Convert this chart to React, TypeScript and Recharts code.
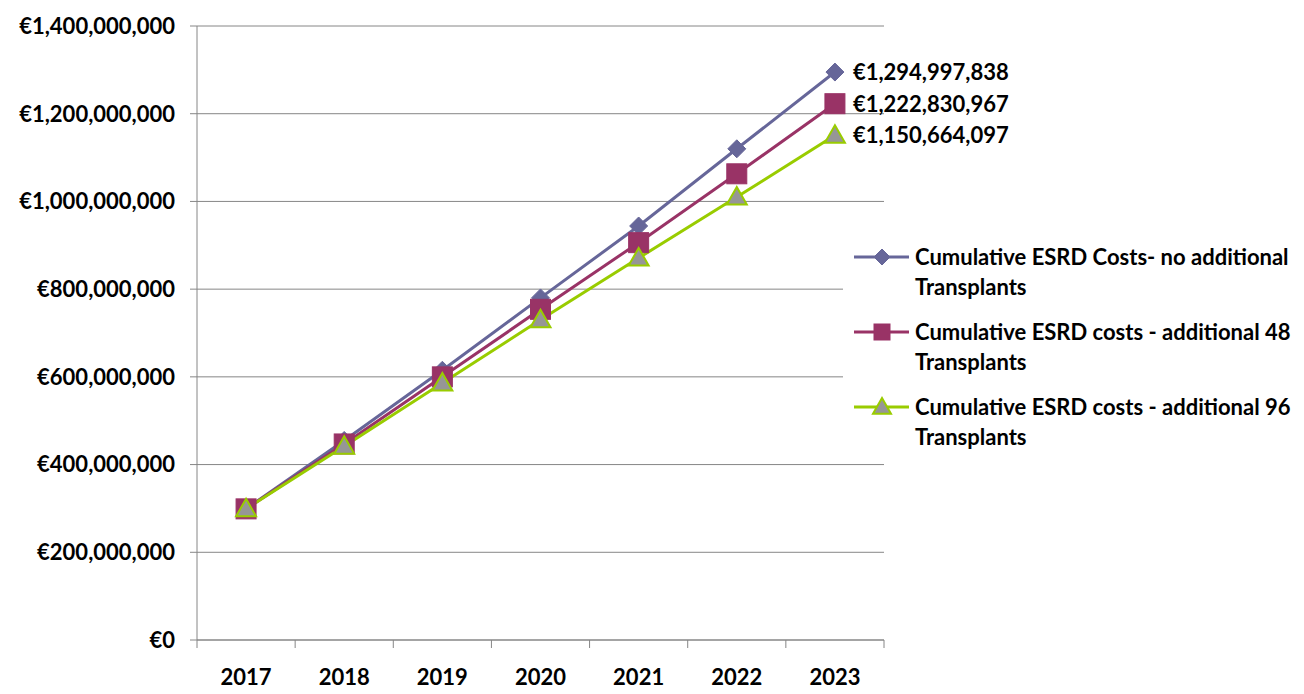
import React from 'react'
import { LineChart, Line, CartesianGrid, XAxis, YAxis, Legend, LabelList } from 'recharts'

const years = ['2017', '2018', '2019', '2020', '2021', '2022', '2023']
const noAdditional = [299000000, 455000000, 615000000, 780000000, 944000000, 1120000000, 1294997838]
const additional48 = [299000000, 447000000, 600000000, 754000000, 906000000, 1063000000, 1222830967]
const additional96 = [299000000, 442000000, 586000000, 730000000, 871000000, 1010000000, 1150664097]
const yTicks = [0, 200000000, 400000000, 600000000, 800000000, 1000000000, 1200000000, 1400000000]

const seriesNames = [
  ['Cumulative ESRD Costs- no additional', 'Transplants'],
  ['Cumulative ESRD costs - additional 48', 'Transplants'],
  ['Cumulative ESRD costs - additional 96', 'Transplants'],
]

const data = years.map((y, i) => ({
  year: y,
  none: noAdditional[i],
  add48: additional48[i],
  add96: additional96[i],
}))

const FONT = 'Lato, sans-serif'
const PURPLE = '#666699'
const MAROON = '#993366'
const GREEN = '#99CC00'
const GREY = '#969696'
const AXIS = '#868686'

const euro = (v: number) => (v === 0 ? '€0' : '€' + v.toLocaleString('en-US'))

const Diamond = ({ cx, cy, s = 9 }: any) => (
  <path d={`M${cx},${cy - s}L${cx + s},${cy}L${cx},${cy + s}L${cx - s},${cy}Z`} fill={PURPLE} stroke={PURPLE} strokeWidth={1} />
)
const Square = ({ cx, cy, s = 10 }: any) => (
  <rect x={cx - s} y={cy - s} width={s * 2} height={s * 2} fill={MAROON} stroke={MAROON} strokeWidth={1} />
)
const Triangle = ({ cx, cy, s = 10 }: any) => (
  <path d={`M${cx},${cy - s}L${cx + s},${cy + s * 0.75}L${cx - s},${cy + s * 0.75}Z`} fill={GREY} stroke={GREEN} strokeWidth={2} />
)

const dotDiamond = (p: any) => <Diamond key={'d' + p.index} cx={p.cx} cy={p.cy} />
const dotSquare = (p: any) => <Square key={'s' + p.index} cx={p.cx} cy={p.cy} />
const dotTriangle = (p: any) => <Triangle key={'t' + p.index} cx={p.cx} cy={p.cy} />

const lastLabel = (p: any) => {
  if (p.index !== years.length - 1) return null
  return (
    <text x={p.x + 18} y={p.y} dy="0.36em" textAnchor="start" fontFamily={FONT} fontWeight={700} fontSize={22} fill="#000">
      {euro(p.value)}
    </text>
  )
}

const XTick = (props: any) => {
  const { x, y, payload, index } = props
  const half = payload.offset || 0
  return (
    <g>
      <line x1={x - half} y1={y} x2={x - half} y2={y + 8} stroke={AXIS} />
      {index === years.length - 1 && <line x1={x + half} y1={y} x2={x + half} y2={y + 8} stroke={AXIS} />}
      <text x={x} y={y + 45} textAnchor="middle" fontFamily={FONT} fontWeight={700} fontSize={22} fill="#000">
        {payload.value}
      </text>
    </g>
  )
}

const legendIcons = [
  (cx: number, cy: number) => <Diamond cx={cx} cy={cy} s={8} />,
  (cx: number, cy: number) => <Square cx={cx} cy={cy} s={8} />,
  (cx: number, cy: number) => <Triangle cx={cx} cy={cy} s={9} />,
]
const legendColors = [PURPLE, MAROON, GREEN]

const LegendBox = () => (
  <div style={{ fontFamily: FONT, fontWeight: 700, fontSize: 22, lineHeight: '30px', color: '#000' }}>
    {seriesNames.map((lines, i) => (
      <div key={i} style={{ display: 'flex', marginBottom: i < 2 ? 15 : 0 }}>
        <svg width={61} height={30} style={{ flex: 'none' }}>
          <line x1={0} y1={15} x2={55} y2={15} stroke={legendColors[i]} strokeWidth={3} />
          {legendIcons[i](28, 15)}
        </svg>
        <div style={{ whiteSpace: 'nowrap' }}>
          {lines[0]}
          <br />
          {lines[1]}
        </div>
      </div>
    ))}
  </div>
)

export default function App() {
  return (
    <div style={{ position: 'relative', width: 1304, height: 694, marginLeft: -8, marginTop: -8, overflow: 'hidden', background: '#fff' }}>
      <LineChart width={1304} height={694} data={data} margin={{ top: 26, right: 420, bottom: 0, left: 0 }}>
        <CartesianGrid vertical={false} stroke={AXIS} strokeWidth={1} />
        <XAxis
          dataKey="year"
          scale="band"
          stroke={AXIS}
          tickLine={false}
          tickSize={0}
          tickMargin={0}
          height={54}
          tick={<XTick />}
          interval={0}
        />
        <YAxis
          domain={[0, 1400000000]}
          ticks={yTicks}
          tickFormatter={euro}
          width={197}
          stroke={AXIS}
          tickSize={7}
          tickMargin={15}
          tick={{ fill: '#000', fontFamily: FONT, fontWeight: 700, fontSize: 22 }}
          interval={0}
        />
        <Legend
          layout="vertical"
          align="center"
          verticalAlign="middle"
          content={<LegendBox />}
          wrapperStyle={{ position: 'absolute', left: 843, top: 242, width: 450, paddingLeft: 11, background: '#fff' }}
        />
        <Line dataKey="none" name={seriesNames[0].join(' ')} stroke={PURPLE} strokeWidth={3} dot={dotDiamond} isAnimationActive={false}>
          <LabelList dataKey="none" content={lastLabel} />
        </Line>
        <Line dataKey="add48" name={seriesNames[1].join(' ')} stroke={MAROON} strokeWidth={3} dot={dotSquare} isAnimationActive={false}>
          <LabelList dataKey="add48" content={lastLabel} />
        </Line>
        <Line dataKey="add96" name={seriesNames[2].join(' ')} stroke={GREEN} strokeWidth={3} dot={dotTriangle} isAnimationActive={false}>
          <LabelList dataKey="add96" content={lastLabel} />
        </Line>
      </LineChart>
      {/* outer chart-area frame */}
      <div style={{ position: 'absolute', left: 6, top: 6, width: 1294, height: 720, borderLeft: '2px solid #999', borderTop: '2px solid #999', borderRight: '2px solid #999', pointerEvents: 'none' }} />
    </div>
  )
}
